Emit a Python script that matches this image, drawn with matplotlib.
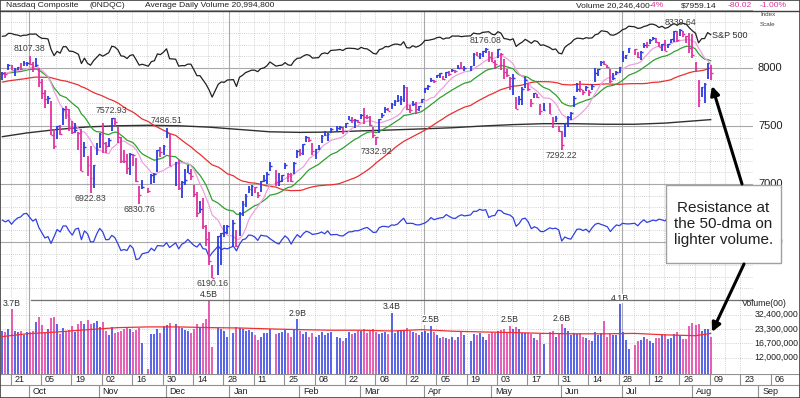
import numpy as np
import pandas as pd
import matplotlib
matplotlib.use("Agg")
import matplotlib.pyplot as plt
from matplotlib.lines import Line2D
from matplotlib.patches import Rectangle, FancyArrowPatch
from matplotlib.transforms import blended_transform_factory

plt.rcParams['font.family'] = ['Liberation Sans', 'DejaVu Sans']

# Nasdaq closes before the visible range (Jul 5 - Sep 17 2018), used for the moving averages
prior_close = [7586.43, 7688.39, 7756.20, 7759.20, 7716.61, 7823.92, 7825.98, 7805.72, 7855.12, 7854.44,
               7825.30, 7820.20, 7841.87, 7840.77, 7932.24, 7852.18, 7737.42, 7630.00, 7671.79, 7707.29,
               7802.69, 7812.01, 7859.68, 7883.66, 7888.33, 7891.78, 7839.11, 7819.71, 7870.89, 7774.12,
               7806.52, 7816.33, 7821.01, 7859.17, 7889.10, 7878.46, 7945.98, 8017.90, 8030.04, 8109.54,
               8088.36, 8109.69, 8091.25, 7995.17, 7922.73, 7902.54, 7924.16, 7972.47, 7954.23, 8013.71,
               8010.04, 7895.79]

# daily bars, Sep 18 2018 - Aug 9 2019 (one line per month)
close = [
    7956.11, 7950.04, 8028.23, 7986.96, 7993.25, 8007.47, 7990.37, 8041.97, 8046.35,
    8037.30, 7999.55, 8025.09, 7879.51, 7788.45, 7735.95, 7738.02, 7422.05, 7329.06, 7496.89, 7430.74, 7645.49, 7642.70, 7485.14, 7449.03, 7468.63, 7437.54, 7108.40, 7318.34, 7167.21, 7050.29, 7161.65, 7305.90,
    7434.06, 7356.99, 7328.85, 7375.96, 7570.75, 7530.88, 7406.90, 7200.87, 7200.09, 7136.39, 7259.03, 7247.87, 7028.48, 6908.82, 6972.25, 6938.98, 7081.85, 7082.70, 7291.59, 7273.08, 7330.54,
    7441.51, 7158.43, 7188.26, 6969.25, 7020.52, 7031.83, 7098.31, 7070.33, 6910.67, 6753.73, 6783.91, 6636.83, 6528.41, 6332.99, 6192.92, 6554.36, 6579.49, 6584.52, 6635.28,
    6665.94, 6463.50, 6738.86, 6823.47, 6897.00, 6957.08, 6986.07, 6971.48, 6905.92, 7023.83, 7034.69, 7084.46, 7157.23, 7020.36, 7025.77, 7073.46, 7164.86, 7085.68, 7028.29, 7183.08, 7281.74,
    7263.87, 7347.54, 7402.08, 7375.28, 7288.35, 7298.20, 7307.90, 7414.62, 7420.38, 7426.95, 7472.41, 7486.77, 7489.07, 7459.71, 7527.54, 7554.46, 7549.30, 7554.51, 7532.53,
    7595.35, 7577.57, 7576.36, 7505.92, 7421.46, 7408.14, 7558.06, 7591.03, 7643.41, 7630.91, 7688.53, 7714.48, 7723.95, 7728.97, 7838.96, 7642.67, 7637.54, 7691.52, 7643.38, 7669.17, 7729.32,
    7828.91, 7848.69, 7895.55, 7891.78, 7938.69, 7953.88, 7909.28, 7964.24, 7947.36, 7984.16, 7976.01, 8000.23, 7996.08, 7998.06, 8015.27, 8120.82, 8102.01, 8118.68, 8146.40, 8161.85, 8095.39,
    8049.64, 8036.77, 8164.00, 8123.29, 7963.76, 7943.32, 7910.59, 7916.94, 7647.02, 7734.49, 7822.15, 7898.05, 7816.29, 7702.38, 7785.72, 7750.84, 7628.28, 7637.01, 7607.35, 7547.31, 7567.72, 7453.15,
    7333.02, 7527.12, 7575.48, 7615.55, 7742.10, 7823.17, 7822.57, 7792.72, 7837.13, 7796.66, 7845.02, 7953.88, 7987.32, 8051.34, 8031.71, 8005.70, 7884.72, 7909.97, 7967.76, 8006.24,
    8091.16, 8109.09, 8170.23, 8161.79, 8098.38, 8141.73, 8202.53, 8196.04, 8244.14, 8258.19, 8222.80, 8185.21, 8207.24, 8146.49, 8204.14, 8251.40, 8321.50, 8238.54, 8330.21, 8293.33, 8273.61, 8175.42,
    8111.12, 8004.07, 7726.04, 7833.27, 7862.83, 8039.16, 7959.14,
]
high = [
    7962, 7967, 8036, 8028, 7997, 8012, 8047, 8060, 8049,
    8107.38, 8056, 8088, 8004, 7904, 7807, 7762, 7719, 7473, 7500, 7508, 7652, 7669, 7643, 7544, 7523, 7452, 7473, 7363, 7238, 7326, 7166, 7353,
    7436, 7524, 7363, 7395, 7572.93, 7566, 7494, 7407, 7293, 7259, 7265, 7262, 7227, 6981, 7037, 6966, 7083, 7095, 7292, 7315, 7337,
    7486.51, 7434, 7189, 7208, 7027, 7133, 7166, 7133, 6990, 6933, 6856, 6877, 6646, 6586, 6304, 6555, 6580, 6646, 6643,
    6693, 6600, 6760, 6856, 6917, 6986, 6991, 6975, 6928, 7029, 7080, 7102, 7190, 7124, 7094, 7078, 7182, 7093, 7096, 7193, 7290,
    7306, 7348, 7410, 7405, 7350, 7299, 7335, 7421, 7460, 7439, 7480, 7498, 7502, 7492, 7528, 7587, 7575, 7558, 7555,
    7602, 7653, 7592, 7582, 7489, 7409, 7560, 7616, 7662, 7655, 7701, 7722, 7763, 7758, 7850, 7837, 7678, 7717, 7711, 7676, 7736,
    7829, 7853, 7912, 7898, 7940, 7955, 7935, 7969, 7972, 7995, 7987, 8023, 8055, 8013, 8017, 8126, 8139, 8130, 8147, 8176.08, 8150,
    8135, 8072, 8165, 8133, 8079, 7991, 7926, 7950, 7748, 7761, 7832, 7920, 7875, 7731, 7788, 7780, 7693, 7697, 7700, 7580, 7588, 7500,
    7459, 7530, 7582, 7620, 7760, 7868, 7887, 7813, 7847, 7809, 7859, 7996, 7988, 8062, 8059, 8030, 7995, 7958, 7971, 8011,
    8148, 8110, 8171, 8166, 8140, 8144, 8219, 8221, 8246, 8266, 8260, 8228, 8208, 8242, 8211, 8253, 8322, 8317, 8339.64, 8316, 8278, 8299,
    8295, 8050, 7900, 7839, 7869, 8040, 8030,
]
low = [
    7897, 7915, 7985, 7980, 7932, 7980, 7980, 8015, 8020,
    8023, 7964, 8005, 7834, 7735, 7654, 7690, 7420, 7303, 7385, 7425, 7505, 7564, 7454, 7430, 7442, 7292, 7108, 7232, 7069, 6922.83, 6966, 7254,
    7310, 7270, 7271, 7318, 7460, 7500, 7350, 7180, 7183, 7082, 7077, 7152, 7013, 6830.76, 6960, 6919, 7003, 7006, 7101, 7229, 7249,
    7397, 7151, 6986, 6944, 6879, 6993, 7094, 7034, 6892, 6714, 6753, 6616, 6468, 6305, 6190.16, 6216, 6305, 6540, 6570,
    6457, 6457, 6555, 6722, 6802, 6919, 6898, 6924, 6876, 6928, 7020, 6998, 7114, 6987, 6981, 7020, 7128, 7020, 7016, 7087, 7220,
    7245, 7250, 7363, 7366, 7254, 7219, 7293, 7355, 7410, 7367, 7440, 7444, 7462, 7430, 7483, 7550, 7530, 7482, 7523,
    7562, 7516, 7560, 7503, 7396, 7332.92, 7443, 7568, 7608, 7626, 7645, 7676, 7706, 7680, 7707, 7640, 7609, 7672, 7606, 7632, 7702,
    7783, 7814, 7876, 7872, 7913, 7912, 7899, 7918, 7933, 7969, 7953, 7994, 7991, 7973, 7976, 8018, 8100, 8080, 8092, 8132, 8048,
    8049, 7994, 8087, 7984, 7907, 7920, 7808, 7771, 7647, 7678, 7685, 7826, 7798, 7665, 7742, 7740, 7595, 7630, 7604, 7485, 7536, 7450,
    7292.22, 7402, 7491, 7554, 7661, 7790, 7793, 7771, 7806, 7760, 7813, 7877, 7927, 8015, 8028, 8002, 7869, 7900, 7937, 7956,
    8053, 8075, 8127, 8108, 8088, 8072, 8170, 8176, 8207, 8238, 8214, 8185, 8145, 8145, 8170, 8218, 8226, 8224, 8279, 8270, 8215, 8130,
    8084, 7963, 7662, 7752, 7696, 7908, 7894,
]
# volume in millions (units of 100 shares)
volume = [
    22.4, 21.5, 23.0, 37.0, 22.0, 21.5, 22.0, 20.0, 21.5,
    21.5, 22.0, 27.5, 30.5, 25.5, 21.0, 23.5, 30.0, 31.0, 26.0, 20.5, 24.0, 22.0, 22.5, 25.0, 21.5, 26.0, 28.0, 26.0, 28.5, 26.0, 26.5, 28.0,
    24.5, 27.5, 22.0, 20.0, 24.5, 21.0, 21.5, 22.0, 23.0, 24.0, 23.5, 21.5, 22.5, 24.0, 17.0, 9.2, 20.5, 20.5, 23.5, 21.0, 25.0,
    25.5, 26.5, 26.0, 24.5, 24.0, 22.5, 22.0, 21.0, 23.0, 26.0, 24.5, 27.0, 29.5, 45.0, 15.5, 24.0, 23.5, 22.0, 19.5,
    21.0, 24.5, 24.0, 23.5, 22.0, 22.5, 21.5, 20.0, 18.0, 19.5, 21.0, 21.0, 23.0, 20.5, 21.0, 21.5, 22.5, 21.0, 19.5, 23.5, 29.0,
    22.0, 20.5, 21.5, 19.5, 21.0, 19.5, 20.0, 21.5, 20.0, 21.0, 21.5, 19.5, 19.0, 17.5, 19.0, 21.5, 20.5, 21.0, 22.0,
    22.0, 23.5, 21.0, 22.5, 23.0, 21.5, 20.5, 21.0, 21.5, 20.5, 34.0, 21.0, 22.0, 22.5, 22.5, 24.0, 22.0, 21.5, 21.0, 20.0, 21.5,
    22.0, 21.0, 25.0, 21.5, 20.0, 19.0, 19.5, 19.0, 18.5, 19.5, 18.0, 19.5, 21.5, 20.0, 17.5, 20.5, 20.0, 21.0, 19.5, 18.0, 20.5,
    21.5, 21.0, 22.0, 22.5, 23.5, 21.0, 25.0, 23.5, 24.5, 23.0, 21.0, 21.0, 21.0, 20.5, 19.0, 18.0, 20.5, 16.5, 21.5, 22.0, 19.5, 21.0,
    26.0, 24.0, 22.0, 20.0, 21.0, 20.5, 21.0, 19.5, 19.0, 18.0, 17.5, 21.5, 20.0, 21.0, 28.0, 19.5, 20.5, 20.0, 20.0, 41.0,
    21.6, 18.0, 14.6, 16.2, 17.5, 18.0, 19.5, 18.5, 17.5, 17.0, 19.0, 19.0, 20.0, 20.5, 18.5, 19.0, 20.5, 21.5, 20.0, 18.5, 18.5, 25.0,
    26.5, 25.5, 26.0, 22.0, 23.5, 23.5, 19.5,
]
# S&P 500 closes (index-scale overlay)
sp500 = [
    2904.31, 2907.95, 2930.75, 2929.67, 2919.37, 2915.56, 2905.97, 2914.00, 2913.98,
    2924.59, 2923.43, 2925.51, 2901.61, 2885.57, 2884.43, 2880.34, 2785.68, 2728.37, 2767.13, 2750.79, 2809.92, 2809.21, 2768.78, 2767.78, 2755.88, 2740.69, 2656.10, 2705.57, 2658.69, 2641.25, 2682.63, 2711.74,
    2740.37, 2723.06, 2738.31, 2755.45, 2813.89, 2806.83, 2781.01, 2726.22, 2722.18, 2701.58, 2730.20, 2736.27, 2690.73, 2641.89, 2649.93, 2632.56, 2673.45, 2682.17, 2743.79, 2737.80, 2760.17,
    2790.37, 2700.06, 2695.95, 2633.08, 2637.72, 2636.78, 2651.07, 2650.54, 2599.95, 2545.94, 2546.16, 2506.96, 2467.42, 2416.62, 2351.10, 2467.70, 2488.83, 2485.74, 2506.85,
    2510.03, 2447.89, 2531.94, 2549.69, 2574.41, 2584.96, 2596.64, 2596.26, 2582.61, 2610.30, 2616.10, 2635.96, 2670.71, 2632.90, 2638.70, 2642.33, 2664.76, 2643.85, 2640.00, 2681.05, 2704.10,
    2706.53, 2724.87, 2737.70, 2731.61, 2706.05, 2707.88, 2709.80, 2744.73, 2753.03, 2745.73, 2775.60, 2779.76, 2784.70, 2774.88, 2792.67, 2796.11, 2793.90, 2792.38, 2784.49,
    2803.69, 2792.81, 2789.65, 2771.45, 2748.93, 2743.07, 2783.30, 2791.52, 2810.92, 2808.48, 2822.48, 2832.94, 2832.57, 2824.23, 2854.88, 2800.71, 2798.36, 2818.46, 2805.37, 2815.44, 2834.40,
    2867.19, 2867.24, 2873.40, 2879.39, 2892.74, 2895.77, 2878.20, 2888.21, 2888.32, 2907.41, 2905.58, 2907.06, 2900.45, 2905.03, 2907.97, 2933.68, 2927.25, 2926.17, 2939.88, 2943.03, 2945.83,
    2923.73, 2917.52, 2945.64, 2932.47, 2884.05, 2879.42, 2870.72, 2881.40, 2811.87, 2834.41, 2850.96, 2876.32, 2859.53, 2840.23, 2864.36, 2856.27, 2822.24, 2826.06, 2802.39, 2783.02, 2788.86, 2752.06,
    2744.45, 2803.27, 2826.15, 2843.49, 2873.34, 2886.73, 2885.72, 2879.84, 2891.64, 2886.98, 2889.67, 2917.75, 2926.46, 2954.18, 2950.46, 2945.35, 2917.38, 2913.78, 2924.92, 2941.76,
    2964.33, 2973.01, 2995.82, 2990.41, 2975.95, 2979.63, 2993.07, 2999.91, 3013.77, 3014.30, 3004.04, 2984.42, 2995.11, 2976.61, 2985.03, 3005.47, 3019.56, 3003.67, 3025.86, 3020.97, 3013.18, 2980.38,
    2953.56, 2932.05, 2844.74, 2881.77, 2883.98, 2938.09, 2918.65,
]

# 200-day moving average
ma200_dates = ['2018-09-18', '2018-09-28', '2018-10-12', '2018-10-26', '2018-11-09', '2018-11-23', '2018-12-07',
               '2018-12-21', '2019-01-04', '2019-01-18', '2019-02-01', '2019-02-15', '2019-03-01', '2019-03-15',
               '2019-03-29', '2019-04-12', '2019-04-26', '2019-05-10', '2019-05-24', '2019-06-07', '2019-06-21',
               '2019-07-05', '2019-07-19', '2019-08-02', '2019-08-09']
ma200 = [7408, 7440, 7470, 7492, 7502, 7506, 7502, 7490, 7470, 7450, 7445, 7448, 7458, 7466,
         7475, 7485, 7500, 7512, 7520, 7520, 7515, 7515, 7525, 7545, 7555]
# 50-day average volume (millions), same dates
avgvol = [19.5, 20.8, 21.7, 22.9, 24.0, 24.4, 24.4, 24.0, 23.8, 23.3, 22.9, 22.6, 22.6, 22.2,
          22.9, 22.1, 21.7, 21.4, 21.0, 20.8, 20.8, 21.0, 20.3, 19.9, 21.0]

price_marks = [('2018-10-01', 8107.38, 'hi'), ('2018-11-07', 7572.93, 'hi'), ('2018-12-03', 7486.51, 'hi'),
               ('2019-04-29', 8176.08, 'hi'), ('2019-07-26', 8339.64, 'hi'), ('2018-10-29', 6922.83, 'lo'),
               ('2018-11-20', 6830.76, 'lo'), ('2018-12-24', 6190.16, 'lo'), ('2019-03-08', 7332.92, 'lo'),
               ('2019-06-03', 7292.22, 'lo')]
vol_marks = ['2018-09-21', '2018-12-21', '2019-01-31', '2019-03-15', '2019-04-03', '2019-05-09',
             '2019-06-03', '2019-06-28']

holidays = ['2018-11-22', '2018-12-05', '2018-12-25', '2019-01-01', '2019-01-21', '2019-02-18',
            '2019-04-19', '2019-05-27', '2019-07-04']
dates = pd.bdate_range('2018-09-18', '2019-08-09', freq='C', holidays=holidays)
n = len(dates)
assert n == len(close) == len(high) == len(low) == len(volume) == len(sp500)

BASE = np.datetime64('2018-09-17')
def wd(d):
    return np.busday_count(BASE, np.array(d, dtype='datetime64[D]'))

x = wd(dates.values.astype('datetime64[D]')).astype(float)
close = np.array(close); high = np.array(high); low = np.array(low)
vol = np.array(volume) * 1e6
prev = np.r_[prior_close[-1], close[:-1]]
BLUE, MAG = '#2a3ae0', '#e0319f'
cols = np.where(close >= prev, BLUE, MAG)

allc = pd.Series(prior_close + list(close))
ma10 = allc.rolling(10).mean().values[-n:]
ema21 = allc.ewm(span=21, adjust=False).mean().values[-n:]
ma50 = allc.rolling(50).mean().values[-n:]

W, H = 800, 398
PX = 3.04          # pixels per weekday
R = 753            # right edge of plot area
xl = 4 - 11.5 / PX
xr = 4 + (R - 11.5) / PX

fig = plt.figure(figsize=(W / 100, H / 100), dpi=100)
def fx(p): return p / W
def fy(p): return 1 - p / H

rect_p = [0, fy(300), R / W, 290 / H]
ax_bg = fig.add_axes(rect_p)
ax_sp = fig.add_axes(rect_p)
ax_rs = fig.add_axes(rect_p)
ax = fig.add_axes(rect_p)
for a in (ax_bg, ax_sp, ax_rs, ax):
    a.set_xlim(xl, xr)
    a.axis('off')
    a.patch.set_alpha(0)
for a in (ax_bg, ax):
    a.set_ylim(6000, 8500)
ax_sp.set_ylim(506.8, 3143.2)
ax_rs.set_ylim(2.4819, 3.4174)

fridays = np.arange(4, 250, 5) - 0.3
quarters = wd(['2018-10-01', '2019-01-01', '2019-04-01', '2019-07-01']) - 0.3
DOT = dict(color='#c4c4c4', lw=0.6, ls=(0, (1, 1.5)), zorder=0)
SOL = dict(color='#a8a8a8', lw=0.8, zorder=0)

for v in range(6000, 8501, 100):
    ax_bg.axhline(v, **(SOL if v % 500 == 0 else DOT))
for f in fridays:
    ax_bg.axvline(f, **DOT)
for q in quarters:
    ax_bg.axvline(q, **SOL)

ax_sp.plot(x, sp500, color='#202020', lw=0.9)
ax_rs.plot(x, close / np.array(sp500), color='#3040e0', lw=0.9)

ax.plot(wd(ma200_dates), ma200, color='#303030', lw=1.0)
ax.plot(x, ma50, color='#e83030', lw=0.9)
ax.plot(x, ema21, color='#30a030', lw=0.9)
ax.plot(x, ma10, color='#f0a0e0', lw=0.9)
ax.vlines(x, low, high, colors=cols, lw=1.3)
ax.hlines(close, x, x + 0.6, colors=cols, lw=1.0)

for d, v, kind in price_marks:
    xi = wd(d)
    if kind == 'hi':
        ax.annotate(f'{v:.2f}', (xi, v), xytext=(0, 1.5), textcoords='offset points',
                    ha='center', va='bottom', fontsize=6.3, color='#404040')
    else:
        ax.annotate(f'{v:.2f}', (xi, v), xytext=(0, -1), textcoords='offset points',
                    ha='center', va='top', fontsize=6.3, color='#404040')

# volume panel
av = fig.add_axes([0, fy(374), R / W, 74 / H])
av.set_yscale('log')
av.set_xlim(xl, xr)
av.set_ylim(8.2e6, 45.5e6)
av.axis('off')
vticks = [32.4e6, 23.3e6, 16.7e6, 12.0e6]
for t in vticks:
    av.axhline(t, **DOT)
for f in fridays:
    av.axvline(f, **DOT)
for q in quarters:
    av.axvline(q, **SOL)
av.vlines(x, 1e6, vol, colors=cols, lw=1.1)
av.plot(wd(ma200_dates), np.array(avgvol) * 1e6, color='#f03030', lw=0.9)
for d in vol_marks:
    i = np.where(dates == pd.Timestamp(d))[0][0]
    av.annotate(f'{vol[i] / 1e7:.1f}B', (x[i], vol[i]), xytext=(0, 1), textcoords='offset points',
                ha='center', va='bottom', fontsize=6.3, color='#303030',
                bbox=dict(fc='white', ec='none', pad=0.2), annotation_clip=False)
fig.add_artist(Line2D([fx(31), fx(R)], [fy(300), fy(300)], color='#707070', lw=0.9))

tr_v = blended_transform_factory(fig.transFigure, av.transData)
fig.text(fx(787), fy(304), 'Volume(00)', ha='right', va='center', fontsize=6.3, color='#202020')
for t in vticks:
    fig.text(fx(798), t, f'{int(t):,}', transform=tr_v, ha='right', va='center', fontsize=6.3,
             color='#202020')

# right price scale (6500 sits mostly under the note box, as in the original)
tr_p = blended_transform_factory(fig.transFigure, ax.transData)
for v in [8000, 7500, 7000, 6500]:
    fig.text(fx(758), v, str(v), transform=tr_p, ha='left', va='center', fontsize=8, color='#202020')
fig.text(fx(760), fy(15), 'Index', fontsize=4.5, color='#404040', va='center')
fig.text(fx(760), fy(24), 'Scale', fontsize=4.5, color='#404040', va='center')
fig.text(fx(712), fy(36), 'S&P 500', fontsize=6.5, color='#303030', va='center')

# date axis
ad = fig.add_axes([0, 0, 1, 24 / H])
ad.set_xlim(xl, xl + W / PX)
ad.set_ylim(24, 0)
ad.axis('off')
ad.axhline(0.3, color='#909090', lw=0.8)
ad.axhline(10.8, color='#909090', lw=0.8)
day_ticks = pd.date_range('2018-09-21', '2019-09-06', freq='14D')
for d in day_ticks:
    xd = wd(d.strftime('%Y-%m-%d')) - 0.3
    ad.vlines(xd, 0.3, 10.8, color='#909090', lw=0.8)
    ad.text(xd + 1.3, 5.8, d.strftime('%d'), fontsize=6.5, va='center', ha='left', color='#202020')
months = pd.date_range('2018-10-01', '2019-09-01', freq='MS')
for m in months:
    xm = wd(m.strftime('%Y-%m-%d')) - 0.3
    ad.vlines(xm, 10.8, 24, color='#909090', lw=0.8)
    ad.text(xm + 1.3, 17.3, m.strftime('%b'), fontsize=6.5, va='center', ha='left', color='#202020')

# header
hdr = [(6, 'Nasdaq Composite', '#202020'), (90, '(0NDQC)', '#202020'),
       (145, 'Average Daily Volume 20,994,800', '#202020'), (576, 'Volume 20,246,400', '#202020'),
       (649, '-4%', MAG), (681, '$7959.14', '#202020'), (728, '-80.02', MAG), (760, '-1.00%', MAG)]
for px, s, c in hdr:
    fig.text(fx(px), fy(5.5), s, fontsize=6.1, color=c, va='center', ha='left')
fig.add_artist(Line2D([0, 1], [fy(11), fy(11)], color='#404040', lw=1.0))
fig.add_artist(Rectangle((0, 0), 1, 1, transform=fig.transFigure, fill=False, ec='#404040', lw=1.2))

# annotation
fig.add_artist(Rectangle((fx(666), fy(263)), 115 / W, 78 / H, transform=fig.transFigure,
                         fc='white', ec='#a0a0a0', lw=1.0, zorder=10))
fig.text(fx(723.5), fy(224), 'Resistance at\nthe 50-dma on\nlighter volume.', ha='center', va='center',
         fontsize=11, linespacing=1.2, color='#202020', zorder=11)
for tail, head in [((742, 184), (712, 86)), ((744, 264), (712, 332))]:
    fig.add_artist(FancyArrowPatch((fx(tail[0]), fy(tail[1])), (fx(head[0]), fy(head[1])),
                                   transform=fig.transFigure, arrowstyle='-|>', mutation_scale=13,
                                   lw=2.2, color='black', shrinkA=0, shrinkB=0, zorder=12))

fig.savefig('out.png', dpi=100)
